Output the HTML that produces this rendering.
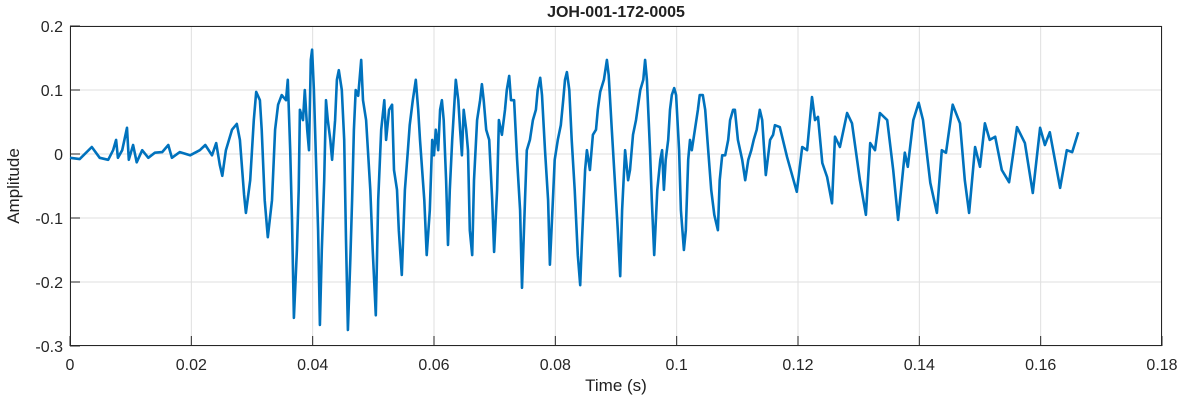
<!DOCTYPE html>
<html><head><meta charset="utf-8"><style>
body{margin:0;background:#fff;}
svg{display:block;font-family:"Liberation Sans",Arial,sans-serif;}
</style></head><body>
<svg id="chart" width="1182" height="404">
<rect x="0" y="0" width="1182" height="404" fill="#fff"/>
<g id="grid"></g>
<g id="axes"></g>
<text x="616" y="17" text-anchor="middle" font-size="16" font-weight="bold" fill="#212121">JOH-001-172-0005</text>
<text x="616" y="391" text-anchor="middle" font-size="17" fill="#212121">Time (s)</text>
<text transform="translate(19,186) rotate(-90)" text-anchor="middle" font-size="17" fill="#212121">Amplitude</text>
</svg>
<script>
const xTicks=[0,0.02,0.04,0.06,0.08,0.1,0.12,0.14,0.16,0.18];
const xTickLabels=["0","0.02","0.04","0.06","0.08","0.1","0.12","0.14","0.16","0.18"];
const yTicks=[0.2,0.1,0,-0.1,-0.2,-0.3];
const yTickLabels=["0.2","0.1","0","-0.1","-0.2","-0.3"];
const timeMs=[0,1.6,3.6,4.9,6.3,7.1,7.6,7.9,8.6,9.4,9.7,10.4,11.0,11.9,12.9,14.0,15.2,16.2,16.8,18.1,19.8,21.4,22.3,23.4,24.1,24.7,25.1,25.7,26.7,27.5,28.0,28.7,29.0,29.7,30.3,30.7,31.3,31.6,32.1,32.6,33.3,33.8,34.3,34.9,35.6,35.9,36.3,36.6,36.9,37.4,37.7,37.9,38.4,38.7,39.1,39.4,39.7,39.9,40.2,40.5,40.9,41.2,41.5,41.9,42.2,42.5,42.9,43.2,43.7,44.0,44.3,44.8,45.2,45.5,45.8,46.2,46.5,46.8,47.1,47.5,48.0,48.3,48.8,49.5,49.9,50.4,50.8,51.3,51.8,52.1,52.6,53.1,53.4,53.9,54.2,54.7,55.2,55.7,56.0,56.5,57.0,57.4,57.7,58.4,58.8,59.3,59.7,60.0,60.3,60.7,61.0,61.3,61.6,62.0,62.3,62.6,63.0,63.3,63.6,64.0,64.3,64.6,64.9,65.3,65.6,65.9,66.3,66.6,67.1,67.6,67.9,68.2,68.6,69.1,69.6,69.9,70.4,70.7,71.2,71.7,72.0,72.4,72.7,73.2,73.7,74.2,74.5,75.0,75.3,75.8,76.3,76.8,77.1,77.5,77.8,78.3,78.8,79.1,79.6,79.9,80.4,80.9,81.3,81.6,81.9,82.3,82.7,83.2,83.7,84.1,84.4,84.9,85.2,85.7,86.2,86.7,87.0,87.4,88.0,88.5,88.8,89.3,89.8,90.3,90.7,91.0,91.5,92.0,92.3,92.8,93.3,94.0,94.5,94.8,95.1,95.6,95.9,96.3,96.8,97.3,97.6,97.9,98.2,98.6,98.9,99.2,99.6,99.9,100.4,100.7,101.2,101.5,101.9,102.2,102.5,103.0,103.5,103.8,104.3,104.7,105.2,105.7,106.2,106.8,107.1,107.5,108.0,108.5,108.8,109.3,109.6,110.1,110.8,111.3,111.8,112.3,112.7,113.2,113.7,114.1,114.7,115.4,115.9,116.2,117.0,118.2,119.8,120.7,121.5,122.3,122.8,123.3,124.0,124.8,125.6,126.1,126.9,128.1,128.9,130.2,131.2,131.9,132.7,133.5,134.7,135.7,136.5,137.6,138.1,139.0,139.9,140.6,141.8,142.9,143.7,144.4,145.5,146.7,147.5,148.2,149.2,150.0,150.8,151.6,152.5,153.6,154.8,156.1,157.4,158.7,159.9,160.7,161.5,163.2,164.3,165.2,166.2];
const amplitude=[-0.006,-0.008,0.011,-0.006,-0.009,0.006,0.022,-0.006,0.006,0.041,-0.009,0.014,-0.013,0.006,-0.006,0.002,0.003,0.014,-0.006,0.003,-0.002,0.006,0.014,-0.002,0.017,-0.017,-0.034,0.006,0.038,0.047,0.022,-0.064,-0.092,-0.041,0.053,0.097,0.084,0.038,-0.072,-0.130,-0.072,0.038,0.077,0.092,0.084,0.116,0.006,-0.103,-0.256,-0.150,-0.056,0.069,0.053,0.100,0.038,0.006,0.147,0.163,0.100,0.006,-0.119,-0.267,-0.150,-0.041,0.084,0.053,0.022,-0.009,0.053,0.116,0.131,0.100,0.022,-0.134,-0.275,-0.166,-0.072,0.038,0.100,0.091,0.147,0.084,0.053,-0.056,-0.150,-0.252,-0.072,0.038,0.084,0.022,0.069,0.077,-0.025,-0.056,-0.119,-0.189,-0.056,0.006,0.045,0.084,0.116,0.069,0.022,-0.072,-0.158,-0.088,0.022,-0.002,0.038,0.006,0.069,0.084,0.053,-0.041,-0.142,-0.056,0.022,0.069,0.116,0.084,0.038,-0.002,0.069,0.038,0.006,-0.119,-0.158,-0.041,0.053,0.084,0.109,0.084,0.038,0.022,-0.072,-0.153,-0.056,0.053,0.030,0.069,0.100,0.122,0.084,0.084,-0.009,-0.088,-0.209,-0.072,0.006,0.022,0.053,0.069,0.100,0.119,0.092,0.006,-0.072,-0.173,-0.072,-0.009,0.022,0.045,0.084,0.116,0.128,0.100,0.022,-0.056,-0.158,-0.205,-0.134,-0.025,0.006,-0.025,0.030,0.038,0.069,0.097,0.116,0.147,0.123,0.038,-0.041,-0.119,-0.191,-0.088,0.006,-0.041,-0.025,0.030,0.053,0.100,0.116,0.147,0.116,0.006,-0.072,-0.158,-0.056,-0.009,0.006,-0.056,-0.009,0.022,0.069,0.092,0.103,0.092,0.006,-0.088,-0.150,-0.119,-0.009,0.022,0.006,0.038,0.069,0.092,0.092,0.069,0.006,-0.056,-0.095,-0.119,-0.041,-0.002,-0.002,0.022,0.053,0.069,0.069,0.022,-0.009,-0.041,-0.009,0.006,0.022,0.038,0.069,0.053,-0.033,0.022,0.030,0.045,0.042,-0.005,-0.059,0.011,0.006,0.089,0.053,0.058,-0.014,-0.036,-0.077,0.027,0.011,0.064,0.048,-0.041,-0.095,0.017,0.006,0.064,0.053,-0.025,-0.103,0.002,-0.020,0.053,0.080,0.053,-0.045,-0.092,0.006,0.002,0.077,0.048,-0.041,-0.092,0.011,-0.020,0.048,0.022,0.027,-0.025,-0.044,0.042,0.017,-0.061,0.041,0.014,0.034,-0.053,0.006,0.003,0.034];

const NS='http://www.w3.org/2000/svg';
const L=70,R=1162,T=26,B=346;
const xScale=t=>L+(t-0)/(0.18)*(R-L);
const yScale=a=>T+(0.2-a)/(0.5)*(B-T);
const grid=document.getElementById('grid'),axes=document.getElementById('axes'),svg=document.getElementById('chart');
function mk(tag,attrs,parent){const e=document.createElementNS(NS,tag);for(const k in attrs)e.setAttribute(k,attrs[k]);parent.appendChild(e);return e;}
xTicks.forEach((v,i)=>{
  const x=xScale(v);
  const g=mk('line',{x1:x,x2:x,y1:T,y2:B,stroke:'#dfdfdf','stroke-width':1},grid);
  
  
  const tk=mk('line',{x1:x,x2:x,y1:B,y2:B-10,stroke:'#262626','stroke-width':1},axes);
  
  
  const tx=mk('text',{x:x,y:B+24,'text-anchor':'middle','font-size':16,fill:'#262626'},axes);
  tx.textContent=xTickLabels[i];
  
  
});
yTicks.forEach((v,i)=>{
  const y=yScale(v);
  const g=mk('line',{x1:L,x2:R,y1:y,y2:y,stroke:'#dfdfdf','stroke-width':1},grid);
  
  
  const tk=mk('line',{x1:L,x2:L+10,y1:y,y2:y,stroke:'#262626','stroke-width':1},axes);
  
  
  const tx=mk('text',{x:L-7,y:y+6,'text-anchor':'end','font-size':16,fill:'#262626'},axes);
  tx.textContent=yTickLabels[i];
  
  
});
const box=mk('rect',{x:L+0.5,y:T+0.5,width:R-L-1,height:B-T-1,fill:'none',stroke:'#262626','stroke-width':1},axes);


let d='';
timeMs.forEach((t,i)=>{d+=(i?'L':'M')+xScale(t/1000).toFixed(1)+','+yScale(amplitude[i]).toFixed(1);});
const line=mk('path',{d:d,fill:'none',stroke:'#0072BD','stroke-width':2.6,'stroke-linejoin':'round'},svg);


</script>
</body></html>
